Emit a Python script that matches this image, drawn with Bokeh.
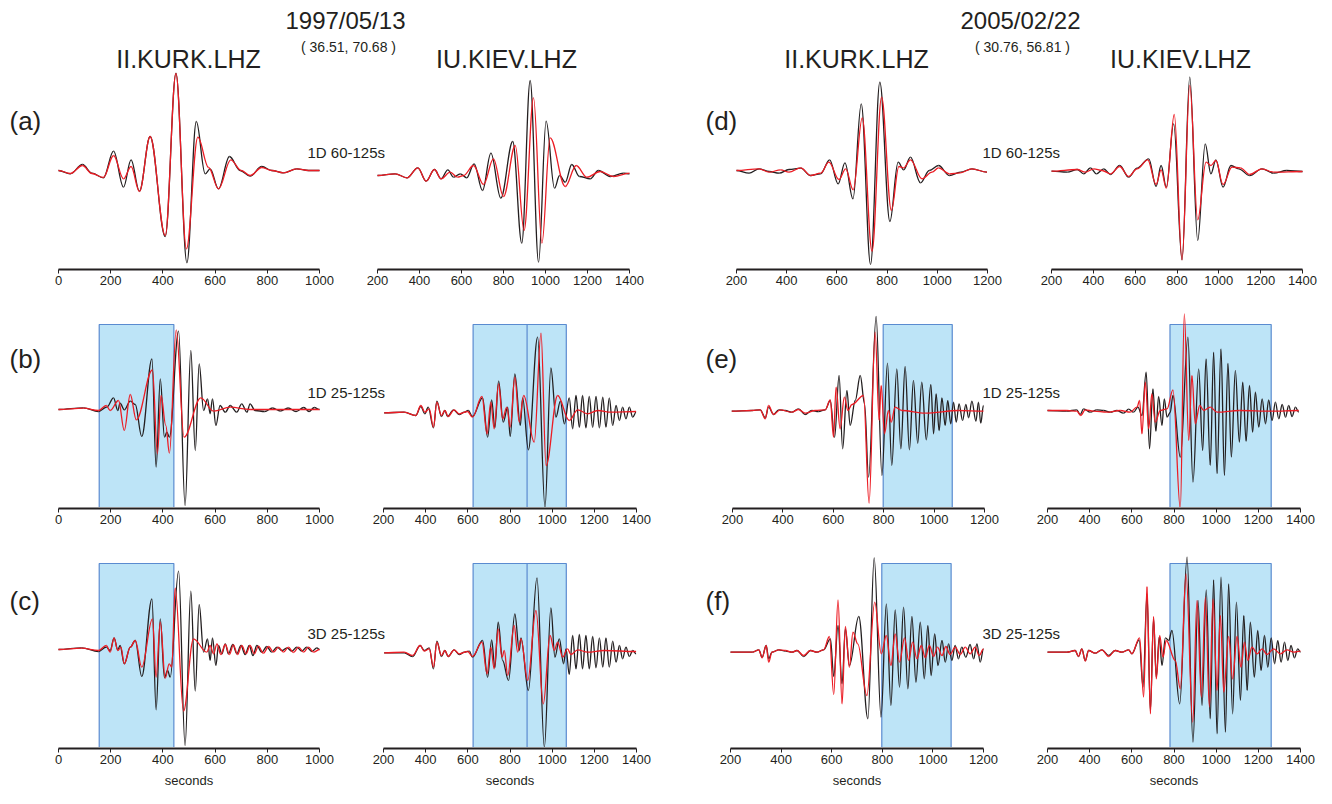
import numpy as np
from bokeh.plotting import figure
from bokeh.layouts import column, row
from bokeh.models import Range1d, FixedTicker, Label
from bokeh.embed import file_html
from bokeh.resources import INLINE

# ---------------- text ----------------
EVENT_DATES = ["1997/05/13", "2005/02/22"]
EVENT_LOCS = ["( 36.51, 70.68 )", "( 30.76, 56.81 )"]
STATIONS = ["II.KURK.LHZ", "IU.KIEV.LHZ"]
PANEL_LETTERS = [["(a)", "(d)"], ["(b)", "(e)"], ["(c)", "(f)"]]
FILTER_LABELS = ["1D 60-125s", "1D 25-125s", "3D 25-125s"]
AXIS_LIMITS = [(0, 1000), (200, 1400), (200, 1200), (200, 1400)]
AXIS_LABEL = "seconds"

# measurement windows (seconds)
WIN_KURK97 = [156, 442]
WIN_KIEV97 = [625, 1067]
WIN_KIEV97_SPLIT = 881
WIN_KURK05 = [798, 1072]
WIN_KIEV05 = [781, 1261]

# ---------------- waveform extrema (time s, amplitude) ----------------
# (a) 1997, 1D 60-125s
a_kurk_obs_t = [0, 45, 92, 128, 172, 211, 249, 278, 310, 351, 409, 450, 492, 528, 562, 581, 613, 655, 696, 734, 779, 817, 862, 913, 958, 1000]
a_kurk_obs_a = [0, -3.3, 6, -2.7, -7.3, 19.3, -16.7, 10.7, -20.7, 34, -66, 97.3, -92.3, 49, -3.3, 1.7, -18.3, 14, 0, -5.7, 4, 0, -2.3, 1.7, 0, 0]
a_kurk_syn_t = [0, 45, 92, 128, 172, 211, 249, 278, 310, 351, 409, 450, 490, 534, 575, 613, 660, 700, 734, 779, 817, 862, 913, 958, 1000]
a_kurk_syn_a = [0, -3, 5, -3, -7, 15, -8.3, 4, -21, 34, -65, 97, -78.3, 33.3, 3, -18.3, 10.7, 0, -5, 3, 0, -2.3, 1.7, 0, 0]
a_kiev_obs_t = [200, 284, 340, 392, 432, 471, 503, 535, 562, 594, 625, 660, 700, 740, 787, 844, 887, 927, 967, 1003, 1043, 1067, 1094, 1125, 1162, 1213, 1252, 1308, 1371, 1400]
a_kiev_obs_a = [-5, -3.3, -7.3, 2.7, -10.7, 1, -8.3, 0.7, -6.7, -3.3, -7.3, 6.7, -20, 17.3, -27.7, 29, -72.7, 90, -91.7, 49.3, -17.7, -5, -11.7, 6, -6, -8.3, 0, -6, -2.7, -3.3]
a_kiev_syn_t = [200, 284, 340, 392, 432, 471, 503, 546, 581, 610, 657, 705, 752, 800, 856, 898, 943, 983, 1022, 1094, 1146, 1197, 1260, 1324, 1400]
a_kiev_syn_a = [-5, -3.3, -7.3, 2.7, -10.7, 1, -8.3, -1.7, -6.7, -5, 5, -14, 11.7, -26, 25, -60, 72.7, -72.7, 32.7, -16, 5, -6.7, -1, -6, -2.7]

# (d) 2005, 1D 60-125s
d_kurk_obs_t = [200, 250, 290, 330, 370, 409, 456, 495, 535, 571, 605, 632, 664, 697, 734, 771, 811, 844, 866, 893, 933, 968, 1005, 1048, 1092, 1138, 1198]
d_kurk_obs_a = [0, -2.7, 1.7, -1, -2.7, 1, 2.3, -5, -3.3, 10.7, -13.3, 7.7, -28.3, 66.7, -94, 88.3, -51, 8.3, 0.7, 13.3, -12.3, 0, 5, -5, -1.7, 1.7, -1.7]
d_kurk_syn_t = [200, 290, 330, 376, 409, 456, 495, 535, 568, 608, 635, 665, 701, 740, 778, 817, 847, 866, 893, 939, 979, 1005, 1048, 1092, 1138, 1198]
d_kurk_syn_a = [0, 1.7, -1.7, 0.7, -1.7, 2.7, -5, -2.7, 8.3, -9, 1.7, -19.3, 52.7, -80.7, 73.3, -40, 4, 2.7, 10.7, -8.3, -1.7, 2.7, -3.3, -2.3, 1.7, -1.7]
d_kiev_obs_t = [200, 275, 323, 354, 386, 415, 450, 482, 526, 569, 609, 665, 700, 724, 749, 784, 824, 861, 899, 935, 962, 986, 1020, 1058, 1095, 1147, 1206, 1262, 1325, 1400]
d_kiev_obs_a = [-0.7, -1.7, 1, -3.3, 2.7, -3.3, 1.7, -4, 5, -6.7, 2.3, 11.7, -16, 5, -16.7, 46.7, -89.3, 93.3, -70, 26.7, -3.3, 10.7, -16.7, 5, 1.7, -5, 1.7, -2.7, 0, -1]
d_kiev_syn_t = [200, 323, 362, 402, 442, 482, 526, 569, 609, 660, 700, 724, 749, 787, 824, 861, 899, 939, 962, 986, 1020, 1063, 1103, 1147, 1206, 1262, 1400]
d_kiev_syn_a = [-0.7, 1, -1.7, 1.7, 0, -3.3, 4, -6, 1.7, 10.7, -14, 0.7, -17.7, 56, -89.3, 85, -49.3, 8.3, 5, 10, -14, 3.3, 2.7, -4, 1.7, -1.7, -1]

# (b) 1997, 1D 25-125s
b_kurk_obs_t = [0, 96, 153, 185, 211, 227, 236, 252, 275, 294, 319, 358, 374, 390, 406, 415, 425, 460, 485, 507, 524, 539, 556, 571, 581, 590, 603, 619, 639, 658, 683, 702, 722, 734, 753, 790, 820, 850, 880, 910, 940, 960, 980, 1000]
b_kurk_obs_a = [0, 1.7, -2, 2.3, 11.7, -1, 6.3, -0.3, 8.3, 5, -27, 50.7, -57.7, 30.7, -27.7, -22.7, -27.7, 78.3, -96, 59, -41, 45.7, -1, 10.7, -4.3, 10.7, -16, 4, -2.7, 4, -2.7, 5.7, -2.7, 5.7, -1, -2, 1.5, -1.5, 1.5, -2, 2, -2, 2, 0]
b_kurk_syn_t = [0, 96, 153, 183, 198, 230, 252, 275, 298, 360, 379, 393, 411, 425, 451, 481, 545, 594, 658, 734, 1000]
b_kurk_syn_a = [0, 1.3, -1, 4, -1, 9, -21, 15, -10.3, 39.7, -44.3, 14, -16, -43.7, 79.7, -27.7, 11.7, -1.7, 2.3, 0, 0]
b_kiev_obs_t = [203, 298, 353, 377, 396, 412, 437, 453, 475, 491, 504, 532, 559, 583, 602, 622, 670, 694, 713, 728, 746, 768, 789, 801, 823, 849, 860, 887, 931, 966, 994, 1018, 1039, 1058, 1081, 1097, 1113, 1129, 1144, 1160, 1176, 1192, 1208, 1224, 1240, 1255, 1271, 1287, 1303, 1319, 1334, 1350, 1366, 1382, 1398]
b_kiev_obs_a = [-3.3, -2.7, -6, 3, -4.3, 2.3, -18.3, 8.3, -7, -1, -7, -0.3, -5, -2.7, -1, -7, 11.7, -27.7, 9.7, -18.3, 28.3, -12.7, 2.3, -27, 35.7, -16, 11.7, -40.3, 72.3, -97.7, 41.7, -7.7, 8.3, -14.3, 11.7, -19.3, 14, -17.7, 14, -18.3, 13, -17.7, 13, -18.3, 12.3, -17.7, 11.7, -16, 4, -11, 2.3, -9.3, 2.3, -7.7, -2.7]
b_kiev_syn_t = [203, 298, 353, 377, 396, 417, 437, 453, 475, 491, 507, 535, 559, 599, 622, 667, 691, 709, 725, 746, 765, 785, 801, 823, 844, 865, 915, 947, 971, 1026, 1081, 1121, 1168, 1216, 1279, 1398]
b_kiev_syn_a = [-3.3, -2.7, -6, 4, -2.7, 0.7, -17.7, 7.3, -6, -1, -7, -0.3, -4.3, -2, -7.7, 13, -24.3, 7.3, -19.3, 25.7, -9.3, 2.3, -17.7, 32.3, -12.7, 14, -32.7, 76.3, -56, 14, -11, -0.3, -4.3, -1, -2.7, -2]

# (e) 2005, 1D 25-125s
e_kurk_obs_t = [197, 277, 310, 330, 343, 363, 383, 409, 435, 462, 488, 515, 541, 568, 588, 605, 623, 637, 654, 667, 687, 707, 724, 740, 770, 793, 815, 832, 852, 868, 885, 902, 918, 935, 951, 969, 987, 998, 1008, 1020, 1031, 1044, 1054, 1066, 1077, 1088, 1099, 1113, 1126, 1137, 1150, 1166, 1176, 1185, 1196]
e_kurk_obs_a = [-1.7, -1, -0.3, -8.3, 2.3, -5, -0.3, -1, -2.7, 0.7, -5, -1, -2, -0.3, 9, -27.7, 34, -39.3, 19, -16, 9, 34, 5.7, -67.7, 93, -66, 46.3, -56, 40.7, -39.3, 43, -40.3, 29, -33.7, 27.3, -30.3, 25, -24.3, 15.7, -21, 11.7, -16, 9, -14.3, 7.3, -12.7, 5.7, -11, 5, -8.3, 8.3, -11.7, 7.3, -13.7, 4]
e_kurk_syn_t = [197, 277, 310, 330, 343, 363, 389, 435, 462, 488, 528, 568, 588, 601, 611, 627, 644, 658, 674, 720, 742, 766, 782, 790, 803, 819, 830, 845, 872, 965, 1097, 1196]
e_kurk_syn_a = [-1.7, -1, -0.3, -9.3, 4, -5, -0.3, -2.7, 0, -3.7, -1, -0.3, 9.7, -27.7, 22.3, -19.3, 12.3, -1, 5, 14, -93.7, 77.3, -11, 24, -24.3, -1, -12.7, 2.3, -1, -3.7, -1, -1.7]
e_kiev_obs_t = [200, 292, 339, 355, 371, 403, 434, 466, 498, 529, 561, 585, 608, 629, 648, 668, 684, 700, 714, 727, 743, 754, 767, 782, 795, 830, 866, 890, 917, 936, 952, 972, 988, 1004, 1023, 1039, 1056, 1072, 1091, 1110, 1126, 1142, 1158, 1173, 1186, 1202, 1218, 1234, 1249, 1265, 1281, 1297, 1313, 1329, 1344, 1360, 1376, 1392]
e_kiev_obs_a = [-1, -1.7, -0.3, -5, 0.7, -2.7, -0.3, -1, -2.7, -1, -3.7, 0.3, -2.7, 2.3, -6, 37.3, -39.3, 20.7, -21.7, 13, -16, 10.7, -7.7, -3, 14, -47.7, 72.3, -72.7, 40.7, -41, 50.7, -56, 57.3, -64.3, 60.7, -66, 46.3, -47.7, 39, -32.7, 27.3, -31.7, 24, -22.7, 17.3, -17.7, 10.7, -14.3, 9.7, -11, 7.3, -9.3, 5, -7.7, 4, -7, 2.3, -2.7]
e_kiev_syn_t = [200, 292, 339, 358, 379, 418, 482, 545, 593, 624, 637, 648, 664, 680, 695, 711, 735, 767, 795, 830, 849, 870, 885, 901, 922, 941, 972, 1004, 1110, 1265, 1392]
e_kiev_syn_a = [-1, -1, -1.7, -6, -0.3, -1.7, -2.7, -1, -2.7, 2.3, 9, -24.3, 27.3, -19.3, 15.7, -12.7, -1, 0.7, 19.7, -99.3, 95.7, -31, 34, -14.3, 4, -1, 2.3, -2.7, -1, -1.7, -1]

# (c) 1997, 3D 25-125s
c_kurk_obs_t = [0, 89, 153, 183, 198, 213, 227, 236, 252, 275, 294, 319, 358, 374, 390, 406, 418, 428, 460, 485, 507, 524, 539, 556, 571, 581, 590, 603, 613, 626, 639, 651, 668, 683, 699, 715, 731, 745, 760, 779, 798, 817, 837, 856, 875, 894, 913, 932, 951, 971, 990, 1000]
c_kurk_obs_a = [0, 1.7, -2, 2.3, -1, 11.7, -0.3, 4, -14.3, 2.3, 9, -27, 50.7, -60.3, 30.7, -28.3, -21, -27.7, 78.3, -96, 58.3, -41.7, 45, -2.7, 10.7, -11, 11.7, -16, 4, -4.3, 5.7, -4.3, 5, -4.3, 4, -5, 4, -6, 4, -2.7, 3, -2.7, 2.3, -1, 1.7, -1.7, 2.3, -1.7, 2.3, -2, 1.7, 0]
c_kurk_syn_t = [0, 89, 153, 183, 198, 213, 227, 239, 252, 275, 294, 319, 360, 374, 390, 409, 424, 434, 447, 479, 517, 568, 581, 594, 607, 622, 639, 655, 670, 686, 702, 719, 734, 750, 766, 785, 805, 824, 843, 862, 881, 900, 920, 939, 958, 977, 1000]
c_kurk_syn_a = [0, 1.3, -1, 4, -2.7, 11.7, -1, 2.3, -14.3, 2.3, 9, -17.7, 30.7, -27.7, 27.3, -28.7, -14.3, -17.7, 61.7, -61.7, 10.7, -2.7, 4, -4.3, 5.7, -5, 5, -5, 4.7, -5, 4, -4.3, 4, -4.3, 3.3, -3.7, 3, -2.7, 2.3, -2.7, 2.3, -3, 2.3, -2.7, 2.3, -2.7, 0]
c_kiev_obs_t = [203, 298, 338, 374, 393, 417, 437, 453, 475, 491, 507, 535, 559, 583, 607, 622, 670, 694, 713, 728, 744, 765, 793, 823, 844, 852, 887, 928, 963, 994, 1013, 1034, 1054, 1066, 1081, 1097, 1113, 1129, 1144, 1160, 1176, 1192, 1208, 1224, 1240, 1255, 1271, 1287, 1303, 1319, 1334, 1350, 1366, 1382, 1398]
c_kiev_obs_a = [-3.3, -3.3, -7, 4, -1, 1.7, -19.3, 8.3, -7, -1, -7, -0.3, -5, -2.7, -1.7, -7.7, 9, -27.7, 9.7, -18.3, 27.3, -11, -31, 35.7, -1, 11.7, -41, 71.7, -97.7, 41.7, -7.7, 10.7, -14.3, 0.7, -25, 14, -19.3, 15, -19.3, 14, -19.3, 13, -18.3, 11.7, -17.7, 11.7, -17.7, 8.3, -12.7, 4, -9.3, 2.3, -7, -1, -4.3]
c_kiev_syn_t = [203, 298, 338, 374, 393, 417, 437, 453, 475, 491, 507, 535, 559, 599, 622, 667, 691, 709, 725, 744, 762, 773, 789, 820, 836, 852, 884, 923, 958, 990, 1010, 1026, 1050, 1073, 1089, 1121, 1168, 1247, 1398]
c_kiev_syn_a = [-3.3, -2.7, -6, 4, -1.7, 0.7, -17.7, 7.3, -6, -1, -7, -0.3, -4.3, -2, -7, 7.3, -24.3, 2.3, -19.3, 20.7, -7.7, -1, -26, 24, -2.7, 10.7, -31, 39, -54.3, 14, -1, 7.3, -7.7, 0.7, -5, -0.3, -2.7, -1, -2]

# (f) 2005, 3D 25-125s
f_kurk_obs_t = [200, 286, 312, 325, 341, 351, 364, 391, 417, 443, 463, 489, 516, 542, 568, 595, 608, 625, 641, 654, 670, 707, 743, 768, 795, 816, 834, 851, 868, 884, 901, 917, 933, 950, 966, 980, 993, 1007, 1020, 1036, 1049, 1062, 1075, 1088, 1101, 1114, 1130, 1147, 1161, 1174, 1187, 1200]
f_kurk_obs_a = [-2.7, -2.7, -0.3, -7.7, 4, -9.3, -2.7, -0.3, -1.7, -2.7, -1, -7, -1, -2.7, -0.3, 10.7, -27, 24, -34.3, 20.7, -16, 33, -69.3, 91.7, -67.7, 45.7, -56, 39.7, -37.7, 42.3, -39.3, 33, -32.7, 27.3, -29.3, 24, -26, 15.7, -16, 9, -12.7, 5.7, -11, 4, -9.3, 2.3, -7.7, 5, -9.3, 5.7, -12.7, 0.7]
f_kurk_syn_t = [200, 286, 312, 325, 341, 351, 364, 391, 417, 443, 463, 489, 516, 542, 568, 591, 608, 625, 641, 654, 670, 684, 703, 739, 770, 796, 816, 834, 851, 868, 888, 904, 920, 937, 954, 970, 986, 1003, 1018, 1036, 1051, 1068, 1088, 1108, 1128, 1147, 1167, 1183, 1200]
f_kurk_syn_a = [-2.7, -2.7, -0.3, -8.3, 4, -12.7, -2.7, -0.3, -1, -2.7, -1, -6, -1, -2.7, -0.3, 13, -45, 49.7, -54.3, 23, -17.7, 17.3, 5.7, -46, 47.3, -4.3, 14, -16, 15.7, -12.7, 11.7, -11, 7.3, -9.3, 4, -8.3, 4, -7, 2.3, -6, 3, -5, 2.3, -5, 2.3, -4.3, 2.3, -6, 0.7]
f_kiev_obs_t = [200, 292, 331, 347, 363, 379, 395, 426, 458, 490, 521, 553, 585, 600, 635, 653, 672, 688, 703, 716, 730, 743, 759, 775, 790, 827, 862, 890, 914, 933, 953, 972, 988, 1004, 1023, 1044, 1059, 1078, 1096, 1115, 1131, 1147, 1162, 1181, 1197, 1213, 1229, 1245, 1261, 1277, 1292, 1308, 1324, 1340, 1355, 1371, 1387, 1400]
f_kiev_obs_a = [-2.7, -2.7, -1, -7, 0.7, -11, -1, -3.7, -0.3, -6, -1, -2.7, -0.3, -4.3, 9.7, -37.7, 55.7, -61, 30.7, -27.7, 12.3, -16, 11.7, 9, 19, -54.3, 92.3, -92.7, 49, -56, 59.7, -69.3, 69.7, -84.3, 72.3, -82.7, 65.7, -64.3, 47.3, -51, 34, -41, 27.3, -27.7, 19, -21, 14, -17.7, 11.7, -14.3, 9, -12.7, 7.3, -11, 4, -8.3, 0.7, -2.7]
f_kiev_syn_t = [200, 292, 331, 347, 363, 379, 395, 426, 458, 490, 521, 553, 585, 600, 637, 656, 672, 688, 703, 716, 732, 748, 763, 806, 830, 857, 889, 909, 930, 949, 968, 985, 1004, 1020, 1036, 1059, 1078, 1099, 1118, 1134, 1150, 1170, 1194, 1218, 1241, 1273, 1305, 1336, 1368, 1400]
f_kiev_syn_a = [-2.7, -2.7, -1, -7, 0.7, -11.7, -1, -3.7, -0.3, -7, -1, -2.7, -0.3, -4.3, 11.7, -47.7, 63, -64.3, 33, -29.3, 14, -7.7, 9, -11, -39.3, 75.7, -72.7, 49, -47.7, 52.3, -57.7, 50.7, -41, 34, -42.7, 13, -29.3, 13, -17.7, 7.3, -11, 2.3, -4.3, 0.7, -5, 0.7, -4.3, -0.3, -2.7, -1.7]

# panel table: rows x columns (kurk97, kiev97, kurk05, kiev05)
TRACES = [
    [(a_kurk_obs_t, a_kurk_obs_a, a_kurk_syn_t, a_kurk_syn_a), (a_kiev_obs_t, a_kiev_obs_a, a_kiev_syn_t, a_kiev_syn_a),
     (d_kurk_obs_t, d_kurk_obs_a, d_kurk_syn_t, d_kurk_syn_a), (d_kiev_obs_t, d_kiev_obs_a, d_kiev_syn_t, d_kiev_syn_a)],
    [(b_kurk_obs_t, b_kurk_obs_a, b_kurk_syn_t, b_kurk_syn_a), (b_kiev_obs_t, b_kiev_obs_a, b_kiev_syn_t, b_kiev_syn_a),
     (e_kurk_obs_t, e_kurk_obs_a, e_kurk_syn_t, e_kurk_syn_a), (e_kiev_obs_t, e_kiev_obs_a, e_kiev_syn_t, e_kiev_syn_a)],
    [(c_kurk_obs_t, c_kurk_obs_a, c_kurk_syn_t, c_kurk_syn_a), (c_kiev_obs_t, c_kiev_obs_a, c_kiev_syn_t, c_kiev_syn_a),
     (f_kurk_obs_t, f_kurk_obs_a, f_kurk_syn_t, f_kurk_syn_a), (f_kiev_obs_t, f_kiev_obs_a, f_kiev_syn_t, f_kiev_syn_a)],
]
WINDOWS = [WIN_KURK97, WIN_KIEV97, WIN_KURK05, WIN_KIEV05]

# ---------------- layout geometry (screen px; page renders from the window origin) ----------------
X_LEFT, X_RIGHT = 0, 1324
WIDTH = X_RIGHT - X_LEFT
STRIP_BOUNDS = [0, 348, 683, 1019, 1324]
ROWS = [
    dict(top=0, bottom=268, base=170, win_top=None, strip=40,
         cols=[(58, 319), (377, 629), (736, 987), (1051, 1302)]),
    dict(top=309, bottom=507, base=409, win_top=85, strip=40,
         cols=[(58, 319), (383, 636), (732, 984), (1047, 1300)]),
    dict(top=548, bottom=747, base=649, win_top=86, strip=48,
         cols=[(58, 319), (383, 636), (730, 983), (1047, 1300)]),
]

FONT = "Liberation Sans"
INK = "#231f20"
OBS_COLOR = "#231f20"
SYN_COLOR = "#ec1c24"
WIN_FILL = "#bde4f7"
WIN_LINE = "#5a8bd0"


def draw_trace(p, t, a, color, rng):
    n = min(len(t), len(a))
    t = np.asarray(t[:n], float)
    a = np.asarray(a[:n], float)
    dt = np.diff(t)
    p.bezier(x0=t[:-1], y0=a[:-1], x1=t[1:], y1=a[1:],
             cx0=t[:-1] + 0.36 * dt, cy0=a[:-1], cx1=t[1:] - 0.36 * dt, cy1=a[1:],
             line_color=color, line_width=1.3, x_range_name=rng)


def add_text(p, base, sx, sy, text, size, align="center"):
    p.add_layout(Label(x=sx, y=base - sy, text=text, text_font=FONT, text_font_size=f"{size}px",
                       text_color=INK, text_align=align, text_baseline="middle"))


layout_items = []
for r, g in enumerate(ROWS):
    base = g["base"]
    p = figure(x_range=Range1d(X_LEFT, X_RIGHT), y_range=Range1d(base - g["bottom"], base - g["top"]),
               frame_width=WIDTH, frame_height=g["bottom"] - g["top"], min_border=0,
               x_axis_location=None, y_axis_location=None, toolbar_location=None,
               output_backend="svg", outline_line_color=None)
    p.grid.visible = False
    ranges = {}
    for k, (xa, xb) in enumerate(g["cols"]):
        d0, d1 = AXIS_LIMITS[k]
        s = (xb - xa) / (d1 - d0)
        start = d0 - (xa - X_LEFT) / s
        ranges[f"c{k}"] = Range1d(start, start + WIDTH / s)
    p.extra_x_ranges = ranges

    for k in range(4):
        rng = f"c{k}"
        if g["win_top"] is not None:
            w = WINDOWS[k]
            p.quad(left=[w[0]], right=[w[1]], bottom=[base - g["bottom"]], top=[g["win_top"]],
                   fill_color=WIN_FILL, line_color=WIN_LINE, line_width=1.2, x_range_name=rng)
            if k == 1:
                p.segment(x0=[WIN_KIEV97_SPLIT], x1=[WIN_KIEV97_SPLIT], y0=[base - g["bottom"]],
                          y1=[g["win_top"]], line_color=WIN_LINE, line_width=1.2, x_range_name=rng)
        ot, oa, st, sa = TRACES[r][k]
        draw_trace(p, ot, oa, OBS_COLOR, rng)
        draw_trace(p, st, sa, SYN_COLOR, rng)

    # panel letters and filter labels
    letter_y = [120, 358, 600][r]
    add_text(p, base, 9, letter_y, PANEL_LETTERS[r][0], 26, "left")
    add_text(p, base, 705, letter_y, PANEL_LETTERS[r][1], 26, "left")
    filt_y = [152, 392, 633][r]
    add_text(p, base, 307, filt_y, FILTER_LABELS[r], 15, "left")
    add_text(p, base, 982, filt_y, FILTER_LABELS[r], 15, "left")

    if r == 0:
        add_text(p, base, 345, 20, EVENT_DATES[0], 24)
        add_text(p, base, 348, 46, EVENT_LOCS[0], 14)
        add_text(p, base, 1020, 20, EVENT_DATES[1], 24)
        add_text(p, base, 1022, 46, EVENT_LOCS[1], 14)
        add_text(p, base, 188, 58, STATIONS[0], 25)
        add_text(p, base, 506, 58, STATIONS[1], 25)
        add_text(p, base, 856, 58, STATIONS[0], 25)
        add_text(p, base, 1180, 58, STATIONS[1], 25)

    layout_items.append(p)

    # axis strip
    strips = []
    for k, (xa, xb) in enumerate(g["cols"]):
        d0, d1 = AXIS_LIMITS[k]
        q = figure(x_range=Range1d(d0, d1), y_range=Range1d(0, 1), frame_width=xb - xa, frame_height=1,
                   min_border_left=xa - STRIP_BOUNDS[k], min_border_right=STRIP_BOUNDS[k + 1] - xb,
                   min_border_top=0, min_border_bottom=g["strip"],
                   y_axis_location=None, toolbar_location=None, output_backend="svg",
                   outline_line_color=None)
        q.grid.visible = False
        ax = q.xaxis[0]
        ax.ticker = FixedTicker(ticks=list(range(d0, d1 + 1, 200)))
        ax.axis_line_width = 2
        ax.axis_line_color = INK
        ax.major_tick_line_color = INK
        ax.major_tick_in = 0
        ax.major_tick_out = 4
        ax.minor_tick_line_color = None
        ax.major_label_standoff = 2
        ax.major_label_text_font = FONT
        ax.major_label_text_font_size = "13px"
        ax.major_label_text_color = INK
        if r == 2:
            ax.axis_label = AXIS_LABEL
            ax.axis_label_text_font = FONT
            ax.axis_label_text_font_style = "normal"
            ax.axis_label_text_font_size = "13px"
            ax.axis_label_text_color = INK
            ax.axis_label_standoff = 6
        strips.append(q)
    layout_items.append(row(*strips, spacing=0))

page = column(*layout_items, spacing=0)
open("out.html", "w").write(file_html(page, INLINE, title="seismograms"))
